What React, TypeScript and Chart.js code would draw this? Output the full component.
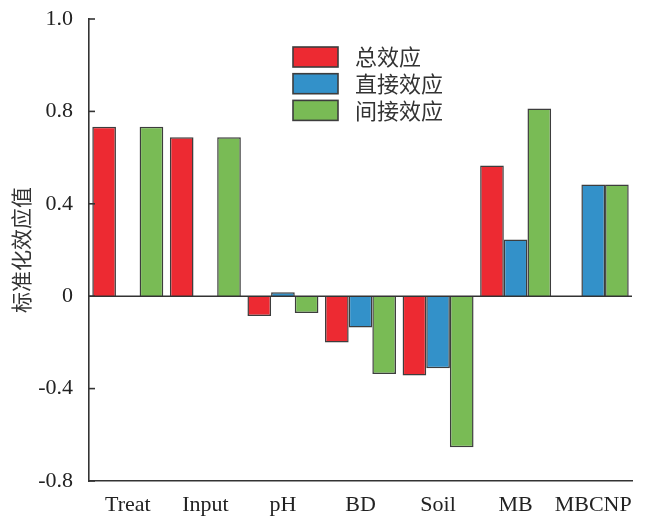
import React, { useEffect, useRef } from "react";
import { Chart, registerables } from "chart.js";

Chart.register(...registerables);

const categories = ["Treat", "Input", "pH", "BD", "Soil", "MB", "MBCNP"];
const seriesNames = ["总效应", "直接效应", "间接效应"];
const totalEffect: (number | null)[] = [0.734, 0.688, -0.086, -0.2, -0.343, 0.566, null];
const directEffect: (number | null)[] = [null, null, 0.017, -0.135, -0.312, 0.245, 0.484];
const indirectEffect: (number | null)[] = [0.734, 0.688, -0.073, -0.337, -0.654, 0.813, 0.484];
const yTickValues = [-0.8, -0.4, 0, 0.4, 0.8, 1.2];
const yTickLabels = ["-0.8", "-0.4", "0", "0.4", "0.8", "1.0"];
const yTitle = "标准化效应值";

const colors = ["#ED2A32", "#3391C9", "#79BB55"];
const edge = "#3d3d3d";
const axisColor = "#333333";

const overlayPlugin = {
  id: "overlay",
  afterDatasetsDraw(chart: any) {
    const { ctx, chartArea, scales } = chart;
    const y = scales.y;
    ctx.save();
    ctx.strokeStyle = axisColor;
    ctx.lineWidth = 1.6;
    const y0 = y.getPixelForValue(0);
    ctx.beginPath();
    ctx.moveTo(chartArea.left, y0);
    ctx.lineTo(chartArea.right, y0);
    ctx.stroke();
    y.ticks.forEach((t: any) => {
      const py = y.getPixelForValue(t.value);
      ctx.beginPath();
      ctx.moveTo(chartArea.left, py);
      ctx.lineTo(chartArea.left + 6, py);
      ctx.stroke();
    });
    const lx = 293;
    const ly = 47;
    const rowGap = 26.7;
    ctx.font = '22px "Noto Sans CJK SC"';
    ctx.textBaseline = "middle";
    ctx.textAlign = "left";
    chart.data.datasets.forEach((ds: any, i: number) => {
      const top = ly + i * rowGap;
      ctx.fillStyle = ds.backgroundColor;
      ctx.fillRect(lx, top, 45, 20);
      ctx.lineWidth = 1.6;
      ctx.strokeStyle = edge;
      ctx.strokeRect(lx, top, 45, 20);
      ctx.fillStyle = "#333333";
      ctx.fillText(ds.label, 355, top + 10);
    });
    ctx.restore();
  },
};

export default function App() {
  const ref = useRef<HTMLCanvasElement | null>(null);
  useEffect(() => {
    if (!ref.current) return;
    const chart = new Chart(ref.current, {
      type: "bar",
      data: {
        labels: categories,
        datasets: [totalEffect, directEffect, indirectEffect].map((d, i) => ({
          label: seriesNames[i],
          data: d,
          backgroundColor: colors[i],
          borderColor: edge,
          borderWidth: 1.5,
          categoryPercentage: 0.915,
          barPercentage: 1.0,
        })),
      },
      options: {
        responsive: false,
        animation: false,
        layout: { padding: { top: 19, right: 23, left: 0, bottom: 0 } },
        plugins: { legend: { display: false }, tooltip: { enabled: false } },
        scales: {
          x: {
            grid: { display: false, drawTicks: false },
            border: { display: true, color: axisColor, width: 1.6 },
            ticks: {
              color: "#222",
              font: { family: '"Liberation Serif", serif', size: 22 },
              padding: 11,
              maxRotation: 0,
              autoSkip: false,
            },
            afterFit(scale: any) {
              scale.height = 37;
              scale.paddingLeft = 0;
              scale.paddingRight = 0;
            },
          },
          y: {
            min: -0.8,
            max: 1.2,
            afterBuildTicks(scale: any) {
              scale.ticks = yTickValues.map((v) => ({ value: v }));
            },
            grid: { display: false, drawTicks: false },
            border: { display: true, color: axisColor, width: 1.6 },
            ticks: {
              color: "#222",
              font: { family: '"Liberation Serif", serif', size: 22 },
              padding: 16,
              callback: (_v: any, i: number) => yTickLabels[i],
            },
            title: {
              display: true,
              text: yTitle,
              color: "#333",
              font: { family: '"Noto Sans CJK SC"', size: 21 },
              padding: { top: 8, bottom: 0 },
            },
            afterFit(scale: any) {
              scale.width = 89;
              scale.paddingTop = 0;
              scale.paddingBottom = 0;
            },
          },
        },
      },
      plugins: [overlayPlugin],
    });
    return () => chart.destroy();
  }, []);
  return (
    <div style={{ position: "absolute", left: 0, top: 0, width: 655, height: 518, background: "#fff" }}>
      <canvas ref={ref} width={655} height={518} />
    </div>
  );
}
